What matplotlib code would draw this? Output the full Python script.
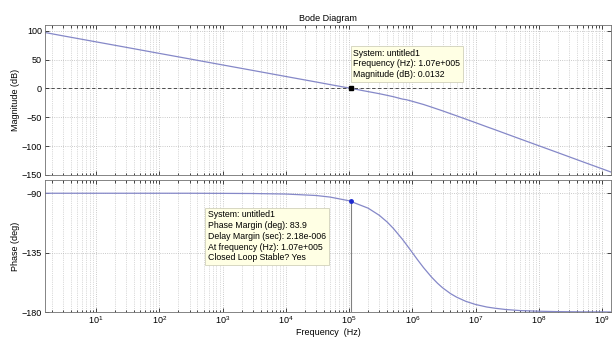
import numpy as np
import matplotlib
matplotlib.use("Agg")
import matplotlib.pyplot as plt
from matplotlib.ticker import FixedLocator, LogFormatterSciNotation, NullFormatter

plt.rcParams['font.family'] = ['Liberation Sans', 'DejaVu Sans']

# --- values ---
freq_hz = [1.5, 3, 10, 30, 100, 300, 1e3, 3e3, 1e4, 3e4, 5e4, 1e5, 2e5, 3e5, 4e5, 5e5,
           7e5, 8e5, 1e6, 1.2e6, 1.5e6, 2e6, 2.5e6, 3e6, 4e6, 5e6, 7e6, 1e7, 1.5e7, 2e7,
           3e7, 5e7, 1e8, 2e8, 5e8, 1e9, 1.4e9]
mag_db = [97.1, 91.0, 80.6, 71.1, 60.6, 51.1, 40.6, 31.1, 20.6, 11.1, 6.6, 0.6,
          -5.6, -9.2, -12.1, -14.4, -18.6, -19.6, -22.4, -24.9, -27.9, -32.4, -36.0,
          -38.9, -43.8, -47.5, -53.3, -59.4, -66.5, -71.4, -78.5, -87.4, -99.4,
          -111.4, -127.4, -139.4, -145.2]
phase_deg = [-90.0, -90.0, -90.0, -90.0, -90.0, -90.0, -90.1, -90.2, -90.6, -91.7,
             -92.9, -95.7, -101.3, -106.7, -111.8, -116.6, -125.0, -128.7, -135.0,
             -140.2, -146.3, -153.4, -158.2, -161.6, -166.0, -168.7, -171.9, -174.3,
             -176.2, -177.1, -178.1, -178.9, -179.4, -179.7, -179.9, -179.9, -180.0]

x_ticks = [1e1, 1e2, 1e3, 1e4, 1e5, 1e6, 1e7, 1e8, 1e9]

cross_f = 1.07e5
cross_mag = 0.0132
cross_phase = -96.1

mag_tip = "System: untitled1\nFrequency (Hz): 1.07e+005\nMagnitude (dB): 0.0132"
phase_tip = ("System: untitled1\nPhase Margin (deg): 83.9\nDelay Margin (sec): 2.18e-006\n"
             "At frequency (Hz): 1.07e+005\nClosed Loop Stable? Yes")

line_col = '#8588c8'
grid_col = '#b8b8b8'
tip_face = '#ffffe4'

fig = plt.figure(figsize=(6.15, 3.41), dpi=100)
ax1 = fig.add_axes([0.073, 0.487, 0.921, 0.44])
ax2 = fig.add_axes([0.073, 0.085, 0.921, 0.387])

# minor ticks 2..9 inside each decade of the view
minor_ticks = [m * d for d in [1e0] + x_ticks for m in range(2, 10) if 1.55 <= m * d <= 1.4e9]

for ax in (ax1, ax2):
    ax.set_xscale('log')
    ax.set_xlim(1.55, 1.4e9)
    ax.xaxis.set_major_locator(FixedLocator(x_ticks))
    ax.xaxis.set_major_formatter(LogFormatterSciNotation())
    ax.xaxis.set_minor_locator(FixedLocator(minor_ticks))
    ax.xaxis.set_minor_formatter(NullFormatter())
    ax.grid(True, which='major', color=grid_col, ls=':', lw=0.6)
    ax.grid(True, which='minor', color=grid_col, ls=':', lw=0.5)
    ax.tick_params(which='both', direction='in', top=True, right=True,
                   labelsize=6.5, length=3, width=0.5, pad=2)
    ax.tick_params(which='minor', length=1.8)
    for s in ax.spines.values():
        s.set_color('#707070')
        s.set_linewidth(0.6)

# magnitude
ax1.plot(freq_hz, mag_db, color=line_col, lw=0.9)
ax1.axhline(0, color='#333333', ls=(0, (4, 3)), lw=0.6)
ax1.set_ylim(-150, 110)
ax1.set_yticks([-150, -100, -50, 0, 50, 100])
ax1.tick_params(axis='x', labelbottom=False)
ax1.set_ylabel('Magnitude (dB)', fontsize=6.5, labelpad=1)
ax1.set_title('Bode Diagram', fontsize=6.5, pad=3)
ax1.plot([cross_f], [cross_mag], marker='s', ms=2.5, color='black', zorder=5)
ax1.text(1.17e5, 69, mag_tip, fontsize=6.3, va='top', ha='left', linespacing=1.25,
         bbox=dict(boxstyle='square,pad=0.3', fc=tip_face, ec='#c8c8b0', lw=0.5), zorder=6)

# phase
ax2.plot(freq_hz, phase_deg, color=line_col, lw=0.9)
ax2.axhline(-180, color='#333333', ls=(0, (4, 3)), lw=0.6)
ax2.set_ylim(-180, -80)
ax2.set_yticks([-180, -135, -90])
ax2.set_ylabel('Phase (deg)', fontsize=6.5, labelpad=1)
ax2.set_xlabel('Frequency  (Hz)', fontsize=6.5, labelpad=1)
ax2.plot([cross_f, cross_f], [-180, cross_phase], color='#808080', lw=0.8, zorder=4)
ax2.plot([cross_f], [cross_phase], marker='o', ms=2.5, color='#1f2bd0', zorder=5)
ax2.text(590, -103, phase_tip, fontsize=6.3, va='top', ha='left', linespacing=1.25,
         bbox=dict(boxstyle='square,pad=0.3', fc=tip_face, ec='#c8c8b0', lw=0.5), zorder=6)

fig.savefig('out.png', dpi=100)
